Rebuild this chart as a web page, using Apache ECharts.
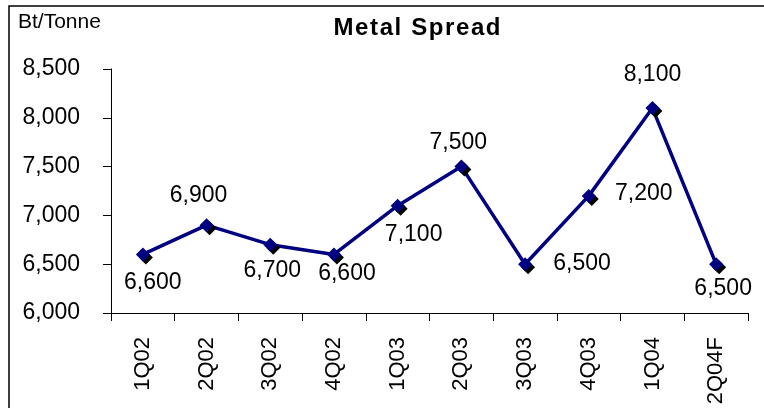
<!DOCTYPE html>
<html>
<head>
<meta charset="utf-8">
<script src="https://cdn.jsdelivr.net/npm/echarts@6/dist/echarts.min.js"></script>
<style>
html,body{margin:0;padding:0;background:#fff;}
#chart{width:764px;height:408px;}
</style>
</head>
<body>
<div id="chart"></div>
<script>
// ---- data ----
var categories = ['1Q02','2Q02','3Q02','4Q02','1Q03','2Q03','3Q03','4Q03','1Q04','2Q04F'];
var spread = [6600, 6900, 6700, 6600, 7100, 7500, 6500, 7200, 8100, 6500];
var yTicks = [6000, 6500, 7000, 7500, 8000, 8500];
var titleText = 'Metal Spread';
var unitText = 'Bt/Tonne';

// ---- label placement (style, not data) ----
var labelOffsets = [[10,28],[-8,-30],[2,26],[13,19],[16,29],[-3,-24],[57,-1],[55,-2],[0,-33],[7,24]];

var FONT = 'Liberation Sans, Arial, sans-serif';
function fmt(v){ return v.toString().replace(/\B(?=(\d{3})+(?!\d))/g, ','); }

// letter-spaced title via rich text segments
var spacedTitle = titleText.split('').map(function(ch){ return '{c|' + ch + '}'; }).join('');

var seriesData = spread.map(function(v, i){
  return { value: v, label: { offset: labelOffsets[i] } };
});

var chart = echarts.init(document.getElementById('chart'), null, {renderer:'canvas'});
chart.setOption({
  animation: false,
  backgroundColor: '#ffffff',
  graphic: [
    { type: 'rect', shape: { x: 9, y: 6, width: 900, height: 600 }, style: { fill: 'none', stroke: '#000', lineWidth: 1.5 }, silent: true },
    { type: 'text', left: 18, top: 12, style: { text: unitText, font: '21px ' + FONT, fill: '#000' } },
    { type: 'text', x: 417, y: 28, style: {
        text: spacedTitle, align: 'center', verticalAlign: 'middle',
        rich: { c: { fontFamily: FONT, fontWeight: 'bold', fontSize: 24, fill: '#000', padding: [0, 0.8, 0, 0.8] } }
      } }
  ],
  grid: { left: 111, right: 16, top: 69, bottom: 95 },
  xAxis: {
    type: 'category',
    data: categories,
    boundaryGap: true,
    axisLine: { lineStyle: { color: '#000', width: 1 } },
    axisTick: { show: true, length: 8, inside: false, alignWithLabel: false, lineStyle: { color: '#000' } },
    axisLabel: { rotate: 90, margin: 24, fontFamily: FONT, fontSize: 22, color: '#000', interval: 0 },
    splitLine: { show: false }
  },
  yAxis: {
    type: 'value',
    min: yTicks[0], max: yTicks[yTicks.length-1], interval: 500,
    axisLine: { show: true, lineStyle: { color: '#000', width: 1 } },
    axisTick: { show: true, length: 8, lineStyle: { color: '#000' } },
    axisLabel: { margin: 31, fontFamily: FONT, fontSize: 23, color: '#000', formatter: function(v){ return fmt(v); } },
    splitLine: { show: false }
  },
  series: [{
    type: 'line',
    data: seriesData,
    symbol: 'diamond',
    symbolSize: 14,
    lineStyle: { color: '#000080', width: 3.5 },
    itemStyle: { color: '#000080', shadowColor: '#000', shadowOffsetX: 3, shadowOffsetY: 3, shadowBlur: 0 },
    label: {
      show: true, position: 'inside',
      fontFamily: FONT, fontSize: 23, color: '#000',
      formatter: function(p){ return fmt(p.value); }
    },
    emphasis: { disabled: true }
  }]
});
</script>
</body>
</html>
